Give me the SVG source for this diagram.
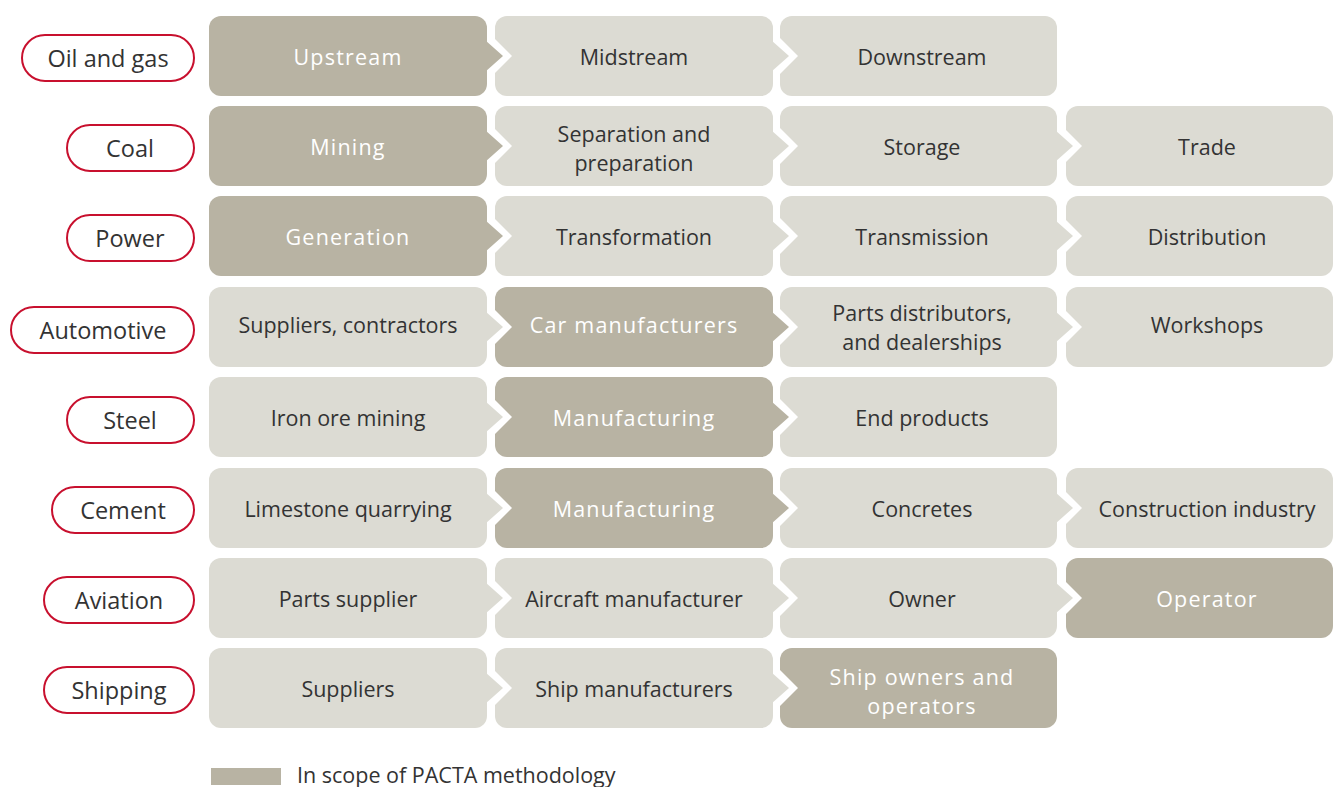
<svg xmlns="http://www.w3.org/2000/svg" width="1333" height="787" viewBox="0 0 1333 787">
  <style>
    text { font-family: "Open Sans", "Noto Sans", "Liberation Sans", sans-serif; }
    .box-in { fill: #b8b3a3; }
    .box-out { fill: #dcdbd3; }
    .lbl-in { fill: #ffffff; font-size: 21.5px; text-anchor: middle; letter-spacing: 1.2px; }
    .lbl-out { fill: #333333; font-size: 21.5px; text-anchor: middle; }
    .pill { fill: #ffffff; stroke: #c8102e; stroke-width: 2; }
    .pill-lbl { fill: #333333; font-size: 23.5px; text-anchor: middle; }
    .legend-lbl { fill: #333333; font-size: 21.5px; }
  </style>
  <defs>
    <!-- white cut carved into the following box -->
    <polygon id="notch" points="0,-25 25,0 0,25" fill="#ffffff"/>
    <!-- arrow tip continuing the preceding box -->
    <polygon id="tip" points="-2,-16 16,0 -2,16"/>
  </defs>

  <!-- sector labels -->
  <g id="sectors">
    <g id="sector-oil"><rect class="pill" x="22" y="35" width="172" height="46" rx="23"/><text class="pill-lbl" x="108" y="67">Oil and gas</text></g>
    <g id="sector-coal"><rect class="pill" x="67" y="125" width="127" height="46" rx="23"/><text class="pill-lbl" x="130" y="157">Coal</text></g>
    <g id="sector-power"><rect class="pill" x="67" y="215" width="127" height="46" rx="23"/><text class="pill-lbl" x="130" y="247">Power</text></g>
    <g id="sector-auto"><rect class="pill" x="11" y="307" width="183" height="46" rx="23"/><text class="pill-lbl" x="103" y="339">Automotive</text></g>
    <g id="sector-steel"><rect class="pill" x="67" y="397" width="127" height="46" rx="23"/><text class="pill-lbl" x="130" y="429">Steel</text></g>
    <g id="sector-cement"><rect class="pill" x="52" y="487" width="142" height="46" rx="23"/><text class="pill-lbl" x="123" y="519">Cement</text></g>
    <g id="sector-aviation"><rect class="pill" x="44" y="577" width="150" height="46" rx="23"/><text class="pill-lbl" x="119" y="609">Aviation</text></g>
    <g id="sector-shipping"><rect class="pill" x="44" y="667" width="150" height="46" rx="23"/><text class="pill-lbl" x="119" y="699">Shipping</text></g>
  </g>

  <!-- value chain steps -->
  <g id="steps">
    <!-- row 1: oil and gas (center 56) -->
    <g id="oil-1"><rect class="box-in" x="209" y="16" width="278" height="80" rx="12"/><text class="lbl-in" x="348" y="65">Upstream</text></g>
    <g id="oil-2"><rect class="box-out" x="495" y="16" width="278" height="80" rx="12"/><text class="lbl-out" x="634" y="65">Midstream</text></g>
    <g id="oil-3"><rect class="box-out" x="780" y="16" width="277" height="80" rx="12"/><text class="lbl-out" x="922" y="65">Downstream</text></g>

    <!-- row 2: coal (center 146) -->
    <g id="coal-1"><rect class="box-in" x="209" y="106" width="278" height="80" rx="12"/><text class="lbl-in" x="348" y="155">Mining</text></g>
    <g id="coal-2"><rect class="box-out" x="495" y="106" width="278" height="80" rx="12"/><text class="lbl-out" x="634" y="142">Separation and</text><text class="lbl-out" x="634" y="171">preparation</text></g>
    <g id="coal-3"><rect class="box-out" x="780" y="106" width="277" height="80" rx="12"/><text class="lbl-out" x="922" y="155">Storage</text></g>
    <g id="coal-4"><rect class="box-out" x="1066" y="106" width="267" height="80" rx="12"/><text class="lbl-out" x="1207" y="155">Trade</text></g>

    <!-- row 3: power (center 236) -->
    <g id="power-1"><rect class="box-in" x="209" y="196" width="278" height="80" rx="12"/><text class="lbl-in" x="348" y="245">Generation</text></g>
    <g id="power-2"><rect class="box-out" x="495" y="196" width="278" height="80" rx="12"/><text class="lbl-out" x="634" y="245">Transformation</text></g>
    <g id="power-3"><rect class="box-out" x="780" y="196" width="277" height="80" rx="12"/><text class="lbl-out" x="922" y="245">Transmission</text></g>
    <g id="power-4"><rect class="box-out" x="1066" y="196" width="267" height="80" rx="12"/><text class="lbl-out" x="1207" y="245">Distribution</text></g>

    <!-- row 4: automotive (center 327) -->
    <g id="auto-1"><rect class="box-out" x="209" y="287" width="278" height="80" rx="12"/><text class="lbl-out" x="348" y="333">Suppliers, contractors</text></g>
    <g id="auto-2"><rect class="box-in" x="495" y="287" width="278" height="80" rx="12"/><text class="lbl-in" x="634" y="333">Car manufacturers</text></g>
    <g id="auto-3"><rect class="box-out" x="780" y="287" width="277" height="80" rx="12"/><text class="lbl-out" x="922" y="321">Parts distributors,</text><text class="lbl-out" x="922" y="350">and dealerships</text></g>
    <g id="auto-4"><rect class="box-out" x="1066" y="287" width="267" height="80" rx="12"/><text class="lbl-out" x="1207" y="333">Workshops</text></g>

    <!-- row 5: steel (center 417) -->
    <g id="steel-1"><rect class="box-out" x="209" y="377" width="278" height="80" rx="12"/><text class="lbl-out" x="348" y="426">Iron ore mining</text></g>
    <g id="steel-2"><rect class="box-in" x="495" y="377" width="278" height="80" rx="12"/><text class="lbl-in" x="634" y="426">Manufacturing</text></g>
    <g id="steel-3"><rect class="box-out" x="780" y="377" width="277" height="80" rx="12"/><text class="lbl-out" x="922" y="426">End products</text></g>

    <!-- row 6: cement (center 508) -->
    <g id="cement-1"><rect class="box-out" x="209" y="468" width="278" height="80" rx="12"/><text class="lbl-out" x="348" y="517">Limestone quarrying</text></g>
    <g id="cement-2"><rect class="box-in" x="495" y="468" width="278" height="80" rx="12"/><text class="lbl-in" x="634" y="517">Manufacturing</text></g>
    <g id="cement-3"><rect class="box-out" x="780" y="468" width="277" height="80" rx="12"/><text class="lbl-out" x="922" y="517">Concretes</text></g>
    <g id="cement-4"><rect class="box-out" x="1066" y="468" width="267" height="80" rx="12"/><text class="lbl-out" x="1207" y="517">Construction industry</text></g>

    <!-- row 7: aviation (center 598) -->
    <g id="aviation-1"><rect class="box-out" x="209" y="558" width="278" height="80" rx="12"/><text class="lbl-out" x="348" y="607">Parts supplier</text></g>
    <g id="aviation-2"><rect class="box-out" x="495" y="558" width="278" height="80" rx="12"/><text class="lbl-out" x="634" y="607">Aircraft manufacturer</text></g>
    <g id="aviation-3"><rect class="box-out" x="780" y="558" width="277" height="80" rx="12"/><text class="lbl-out" x="922" y="607">Owner</text></g>
    <g id="aviation-4"><rect class="box-in" x="1066" y="558" width="267" height="80" rx="12"/><text class="lbl-in" x="1207" y="607">Operator</text></g>

    <!-- row 8: shipping (center 688) -->
    <g id="shipping-1"><rect class="box-out" x="209" y="648" width="278" height="80" rx="12"/><text class="lbl-out" x="348" y="697">Suppliers</text></g>
    <g id="shipping-2"><rect class="box-out" x="495" y="648" width="278" height="80" rx="12"/><text class="lbl-out" x="634" y="697">Ship manufacturers</text></g>
    <g id="shipping-3"><rect class="box-in" x="780" y="648" width="277" height="80" rx="12"/><text class="lbl-in" x="922" y="685">Ship owners and</text><text class="lbl-in" x="922" y="714">operators</text></g>
  </g>

  <!-- chevron links between consecutive steps -->
  <g id="connectors">
    <!-- row 1 -->
    <use href="#notch" x="487" y="56"/><use href="#tip" x="487" y="56" fill="#b8b3a3"/>
    <use href="#notch" x="773" y="56"/><use href="#tip" x="773" y="56" fill="#dcdbd3"/>
    <!-- row 2 -->
    <use href="#notch" x="487" y="146"/><use href="#tip" x="487" y="146" fill="#b8b3a3"/>
    <use href="#notch" x="773" y="146"/><use href="#tip" x="773" y="146" fill="#dcdbd3"/>
    <use href="#notch" x="1057" y="146"/><use href="#tip" x="1057" y="146" fill="#dcdbd3"/>
    <!-- row 3 -->
    <use href="#notch" x="487" y="236"/><use href="#tip" x="487" y="236" fill="#b8b3a3"/>
    <use href="#notch" x="773" y="236"/><use href="#tip" x="773" y="236" fill="#dcdbd3"/>
    <use href="#notch" x="1057" y="236"/><use href="#tip" x="1057" y="236" fill="#dcdbd3"/>
    <!-- row 4 -->
    <use href="#notch" x="487" y="327"/><use href="#tip" x="487" y="327" fill="#dcdbd3"/>
    <use href="#notch" x="773" y="327"/><use href="#tip" x="773" y="327" fill="#b8b3a3"/>
    <use href="#notch" x="1057" y="327"/><use href="#tip" x="1057" y="327" fill="#dcdbd3"/>
    <!-- row 5 -->
    <use href="#notch" x="487" y="417"/><use href="#tip" x="487" y="417" fill="#dcdbd3"/>
    <use href="#notch" x="773" y="417"/><use href="#tip" x="773" y="417" fill="#b8b3a3"/>
    <!-- row 6 -->
    <use href="#notch" x="487" y="508"/><use href="#tip" x="487" y="508" fill="#dcdbd3"/>
    <use href="#notch" x="773" y="508"/><use href="#tip" x="773" y="508" fill="#b8b3a3"/>
    <use href="#notch" x="1057" y="508"/><use href="#tip" x="1057" y="508" fill="#dcdbd3"/>
    <!-- row 7 -->
    <use href="#notch" x="487" y="598"/><use href="#tip" x="487" y="598" fill="#dcdbd3"/>
    <use href="#notch" x="773" y="598"/><use href="#tip" x="773" y="598" fill="#dcdbd3"/>
    <use href="#notch" x="1057" y="598"/><use href="#tip" x="1057" y="598" fill="#dcdbd3"/>
    <!-- row 8 -->
    <use href="#notch" x="487" y="688"/><use href="#tip" x="487" y="688" fill="#dcdbd3"/>
    <use href="#notch" x="773" y="688"/><use href="#tip" x="773" y="688" fill="#dcdbd3"/>
  </g>

  <!-- legend -->
  <g id="legend">
    <rect class="box-in" x="211" y="768" width="70" height="17"/>
    <text class="legend-lbl" x="297" y="783">In scope of PACTA methodology</text>
  </g>
</svg>
